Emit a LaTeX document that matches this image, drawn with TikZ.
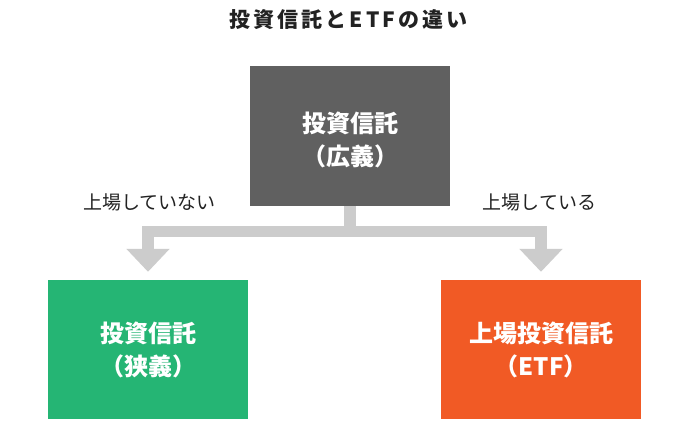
\documentclass[tikz,border=0pt]{standalone}
\usepackage{fontspec}
\newfontfamily\jp{Noto Sans CJK JP}
\newfontfamily\jptitle{Noto Sans CJK JP}[LetterSpace=15]
\usetikzlibrary{arrows.meta}
\definecolor{boxgray}{HTML}{606060}
\definecolor{boxgreen}{HTML}{25B574}
\definecolor{boxorange}{HTML}{F15A25}
\definecolor{arrowgray}{HTML}{CCCCCC}
\definecolor{txt}{HTML}{222222}
\begin{document}
\begin{tikzpicture}[x=1pt,y=-1pt]
\useasboundingbox[fill=white] (0,0) rectangle (700,433);
\tikzset{
  box/.style={minimum width=200pt, minimum height=139pt, inner sep=0pt, align=center, text=white, font=\jp\bfseries\fontsize{24}{33}\selectfont},
  conn/.style={draw=arrowgray, line width=11.5pt, line join=miter, -{Triangle[width=42pt,length=23pt]}},
  lbl/.style={font=\jp\fontsize{19}{22}\selectfont, text=txt, inner sep=0pt},
  ttl/.style={font=\jptitle\bfseries\fontsize{21}{24}\selectfont, text=txt, inner sep=0pt}
}
\node[ttl] (title) at (348.5,20) {投資信託とETFの違い};
\node[box, fill=boxgray, minimum height=140pt] (top) at (350,136) {};
\node[box, text=white] (toptext) at (350,140) {投資信託\\（広義）};
\node[box, fill=boxgreen] (narrow) at (148,349.5) {投資信託\\（狭義）};
\node[box, fill=boxorange] (etf) at (541,349.5) {上場投資信託\\（ETF）};
\node[lbl] (lnot) at (149.5,202) {上場していない};
\node[lbl] (lyes) at (539.5,202) {上場している};
\draw[conn] (top.south) -- ++(0,25.5) -| ([yshift=8pt]narrow.north);
\draw[conn] (top.south) -- ++(0,25.5) -| ([yshift=8pt]etf.north);
\end{tikzpicture}
\end{document}
